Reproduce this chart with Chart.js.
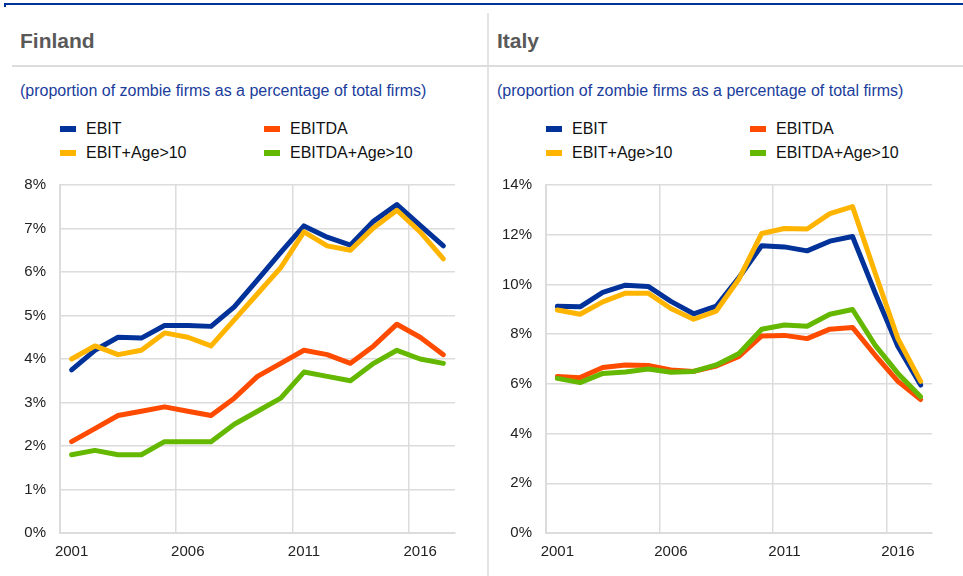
<!DOCTYPE html>
<html>
<head>
<meta charset="utf-8">
<script src="https://cdn.jsdelivr.net/npm/chart.js@4/dist/chart.umd.min.js"></script>
<style>
  html, body { margin: 0; padding: 0; background: #fff; }
  body { width: 963px; height: 576px; position: relative; overflow: hidden;
         font-family: "Liberation Sans", Arial, sans-serif; }
  .abs { position: absolute; }
  .topline { left: 4px; top: 3px; width: 959px; height: 2px; background: #003299; }
  .topnub { left: 4px; top: 5px; width: 2px; height: 2px; background: #003299; }
  .vsep { left: 487px; top: 13px; width: 2px; height: 563px; background: #e3e3e3; }
  .hsep { left: 12px; top: 65px; width: 951px; height: 2px; background: #dcdcdc; }
  .title { top: 28px; font-size: 21px; font-weight: bold; color: #595959; line-height: 26px; }
  .sub { top: 81px; font-size: 16px; color: #1a3d9c; line-height: 20px; white-space: nowrap; }
  .legend { top: 119px; width: 420px; height: 48px; }
  .item { position: absolute; height: 20px; font-size: 16px; line-height: 20px; color: #111; white-space: nowrap; }
  .item span.sw { position: absolute; left: 0; top: 7px; width: 16px; height: 6px; }
  .item span.tx { position: absolute; left: 26px; top: 0; }
  canvas { position: absolute; }
</style>
</head>
<body>
<div class="abs topline"></div>
<div class="abs topnub"></div>
<div class="abs vsep"></div>
<div class="abs hsep"></div>

<div class="abs title" style="left:20px">Finland</div>
<div class="abs title" style="left:497px">Italy</div>
<div class="abs sub" style="left:20px">(proportion of zombie firms as a percentage of total firms)</div>
<div class="abs sub" style="left:497px">(proportion of zombie firms as a percentage of total firms)</div>

<div class="abs legend" id="legFI" style="left:60px"></div>
<div class="abs legend" id="legIT" style="left:546px"></div>

<canvas id="chartFI" width="480" height="406" style="left:0px;top:170px"></canvas>
<canvas id="chartIT" width="483" height="406" style="left:480px;top:170px"></canvas>

<script>
// Years on the horizontal axis
const years = ['2001','2002','2003','2004','2005','2006','2007','2008','2009',
               '2010','2011','2012','2013','2014','2015','2016','2017'];

// Series names and colours
const seriesNames = ['EBIT', 'EBITDA', 'EBIT+Age>10', 'EBITDA+Age>10'];
const seriesColors = ['#003299', '#ff4b00', '#ffb400', '#65b800'];

// Finland: share of zombie firms, % of total firms
const fiEBIT        = [3.75, 4.2, 4.5, 4.48, 4.77, 4.77, 4.75, 5.2, 5.82, 6.45, 7.06, 6.8, 6.62, 7.17, 7.55, 7.07, 6.6];
const fiEBITDA      = [2.1, 2.4, 2.7, 2.8, 2.9, 2.8, 2.7, 3.1, 3.6, 3.9, 4.2, 4.1, 3.9, 4.3, 4.8, 4.5, 4.1];
const fiEBITAge     = [4.0, 4.3, 4.1, 4.2, 4.6, 4.5, 4.3, 4.9, 5.5, 6.1, 6.92, 6.6, 6.5, 7.02, 7.42, 6.92, 6.3];
const fiEBITDAAge   = [1.8, 1.9, 1.8, 1.8, 2.1, 2.1, 2.1, 2.5, 2.8, 3.1, 3.7, 3.6, 3.5, 3.9, 4.2, 4.0, 3.9];

// Italy: share of zombie firms, % of total firms
const itEBIT        = [9.12, 9.1, 9.68, 9.97, 9.92, 9.32, 8.82, 9.13, 10.28, 11.56, 11.51, 11.35, 11.74, 11.93, 9.65, 7.5, 5.95];
const itEBITDA      = [6.3, 6.25, 6.66, 6.76, 6.74, 6.56, 6.5, 6.72, 7.1, 7.93, 7.95, 7.82, 8.2, 8.27, 7.15, 6.1, 5.37];
const itEBITAge     = [8.97, 8.8, 9.3, 9.65, 9.65, 9.03, 8.6, 8.93, 10.22, 12.05, 12.25, 12.23, 12.85, 13.13, 10.45, 7.82, 6.1];
const itEBITDAAge   = [6.22, 6.05, 6.42, 6.48, 6.6, 6.47, 6.5, 6.76, 7.22, 8.2, 8.37, 8.32, 8.8, 8.99, 7.55, 6.42, 5.48];

// Y-axis ranges
const fiMax = 8, fiStep = 1;
const itMax = 14, itStep = 2;

const FONT = '"Liberation Sans", Arial, sans-serif';
const GRID = '#dcdcdc';
const TEXT = '#222';

function buildLegend(id) {
  const el = document.getElementById(id);
  seriesNames.forEach((name, i) => {
    const d = document.createElement('div');
    d.className = 'item';
    d.style.left = (i % 2 === 0 ? 0 : 204) + 'px';
    d.style.top = (i < 2 ? 0 : 24) + 'px';
    d.innerHTML = '<span class="sw" style="background:' + seriesColors[i] + '"></span><span class="tx"></span>';
    d.querySelector('.tx').textContent = name;
    el.appendChild(d);
  });
}

function makeChart(canvasId, values, yMax, yStep, yWidth, padRight) {
  const datasets = values.map((arr, i) => ({
    label: seriesNames[i],
    data: arr,
    borderColor: seriesColors[i],
    backgroundColor: seriesColors[i],
    borderWidth: 5,
    pointRadius: 0,
    pointHoverRadius: 0,
    tension: 0,
    fill: false,
    borderCapStyle: 'round',
    borderJoinStyle: 'round',
    order: values.length - 1 - i
  }));
  return new Chart(document.getElementById(canvasId), {
    type: 'line',
    data: { labels: years, datasets },
    options: {
      responsive: false,
      animation: false,
      devicePixelRatio: 1,
      events: [],
      layout: { padding: { left: 0, right: padRight, top: 15, bottom: 0 } },
      plugins: { legend: { display: false }, tooltip: { enabled: false } },
      scales: {
        x: {
          type: 'category',
          offset: true,
          grid: {
            offset: true,
            drawTicks: false,
            lineWidth: 1.5,
            color: (ctx) => (ctx.index % 5 === 0 && ctx.index < years.length) ? GRID : 'rgba(0,0,0,0)'
          },
          border: { color: GRID, width: 2 },
          ticks: {
            autoSkip: false,
            maxRotation: 0,
            minRotation: 0,
            padding: 10,
            color: TEXT,
            font: { family: FONT, size: 15 },
            callback: function (val, idx) { return idx % 5 === 0 ? years[idx] : ''; }
          },
          afterFit: (s) => { s.height = 43; }
        },
        y: {
          min: 0,
          max: yMax,
          grid: {
            drawTicks: true,
            tickLength: 14,
            tickColor: 'rgba(0,0,0,0)',
            color: GRID,
            lineWidth: 1.5
          },
          border: { color: GRID, width: 2 },
          ticks: {
            stepSize: yStep,
            padding: 0,
            color: TEXT,
            font: { family: FONT, size: 15 },
            callback: (v) => v + '%'
          },
          afterFit: (s) => { s.width = yWidth; }
        }
      }
    }
  });
}

buildLegend('legFI');
buildLegend('legIT');
makeChart('chartFI', [fiEBIT, fiEBITDA, fiEBITAge, fiEBITDAAge], fiMax, fiStep, 60, 25);
makeChart('chartIT', [itEBIT, itEBITDA, itEBITAge, itEBITDAAge], itMax, itStep, 66, 31);
</script>
</body>
</html>
